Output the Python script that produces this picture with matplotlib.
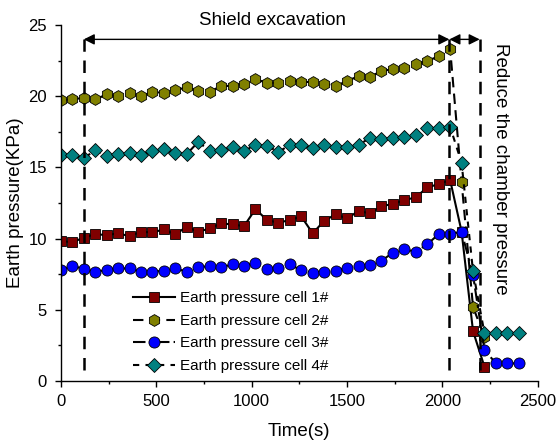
import matplotlib
matplotlib.use("Agg")
import matplotlib.pyplot as plt
from matplotlib.ticker import MultipleLocator

plt.rcParams['font.family'] = ['Liberation Sans', 'DejaVu Sans']

# sampling times (s), one reading per minute
time = [0, 60, 120, 180, 240, 300, 360, 420, 480, 540, 600, 660, 720, 780,
        840, 900, 960, 1020, 1080, 1140, 1200, 1260, 1320, 1380, 1440, 1500,
        1560, 1620, 1680, 1740, 1800, 1860, 1920, 1980, 2040, 2100, 2160,
        2220, 2280, 2340, 2400]

cell1 = [9.83, 9.76, 10.06, 10.32, 10.25, 10.37, 10.18, 10.48, 10.44, 10.65,
         10.30, 10.84, 10.48, 10.72, 11.07, 11.00, 10.88, 12.08, 11.31, 11.12,
         11.31, 11.56, 10.37, 11.26, 11.70, 11.42, 11.94, 11.78, 12.29, 12.43,
         12.71, 12.90, 13.60, 13.83, 14.12, 10.50, 3.50, 1.00]
cell2 = [19.73, 19.78, 19.90, 19.78, 20.13, 20.01, 20.20, 20.01, 20.30, 20.25,
         20.44, 20.62, 20.39, 20.30, 20.74, 20.72, 20.90, 21.20, 20.95, 20.95,
         21.10, 21.04, 20.98, 20.90, 20.72, 21.07, 21.42, 21.37, 21.77, 21.91,
         21.96, 22.24, 22.47, 22.82, 23.34, 14.00, 5.20, 3.10]
cell3 = [7.79, 8.10, 7.87, 7.68, 7.79, 7.91, 7.91, 7.68, 7.68, 7.75,
         7.91, 7.68, 7.98, 8.08, 7.98, 8.20, 8.08, 8.31, 7.84, 7.96,
         8.20, 7.77, 7.60, 7.68, 7.75, 7.96, 8.08, 8.15, 8.45, 9.01,
         9.25, 9.08, 9.60, 10.32, 10.32, 10.48, 7.45, 2.18, 1.24, 1.24, 1.24]
cell4 = [15.87, 15.87, 15.64, 16.22, 15.80, 15.92, 15.99, 15.87, 16.17, 16.27,
         15.99, 15.94, 16.80, 16.17, 16.22, 16.45, 16.17, 16.57, 16.52, 16.10,
         16.57, 16.57, 16.38, 16.57, 16.45, 16.45, 16.57, 17.09, 16.97, 17.09,
         17.16, 17.28, 17.79, 17.79, 17.86, 15.33, 7.70, 3.35, 3.35, 3.35, 3.35]

labels = ['Earth pressure cell 1#', 'Earth pressure cell 2#',
          'Earth pressure cell 3#', 'Earth pressure cell 4#']

# stage boundaries (s) and arrow height (KPa)
t_start, t_end, t_reduce = 120, 2036, 2195
arrow_y = 24.0

fig = plt.figure(figsize=(5.58, 4.41), dpi=100)
ax = fig.add_axes([0.109, 0.136, 0.855, 0.807])

ax.plot(time[:len(cell1)], cell1, color='black', lw=1.5, ls='-',
        marker='s', ms=7, mfc='#800000', mec='black', mew=0.6, label=labels[0])
ax.plot(time[:len(cell2)], cell2, color='black', lw=1.5, ls=(0, (5, 3)),
        marker='h', ms=8.5, mfc='#808000', mec='black', mew=0.6, label=labels[1])
ax.plot(time, cell3, color='black', lw=1.5, ls=(0, (6, 2, 1.5, 2)),
        marker='o', ms=8, mfc='#0000ff', mec='black', mew=0.6, label=labels[2])
ax.plot(time, cell4, color='black', lw=1.5, ls=(0, (3, 3)),
        marker='D', ms=7, mfc='#008080', mec='black', mew=0.6, label=labels[3])

# stage markers
for t in (t_start, t_end, t_reduce):
    ax.plot([t, t], [0.8, arrow_y], color='black', lw=1.8, ls=(0, (5, 3.5)))
arrow = dict(arrowstyle='<|-|>', color='black', lw=1.0,
             mutation_scale=16, shrinkA=0, shrinkB=0)
ax.annotate('', xy=(t_start, arrow_y), xytext=(t_end, arrow_y), arrowprops=arrow)
ax.annotate('', xy=(t_end, arrow_y), xytext=(t_reduce, arrow_y), arrowprops=arrow)
ax.text(1108, 25.35, 'Shield excavation', ha='center', va='center', fontsize=13.5)
ax.text(2305, 14.9, 'Reduce the chamber pressure', ha='center', va='center',
        rotation=270, fontsize=13.5)

ax.set_xlim(0, 2500)
ax.set_ylim(0, 25)
ax.xaxis.set_major_locator(MultipleLocator(500))
ax.xaxis.set_minor_locator(MultipleLocator(250))
ax.yaxis.set_major_locator(MultipleLocator(5))
ax.yaxis.set_minor_locator(MultipleLocator(2.5))
ax.tick_params(which='major', direction='out', length=4, width=1, labelsize=12)
ax.tick_params(which='minor', direction='out', length=2.5, width=1)
ax.tick_params(axis='x', which='major', pad=5.5)
ax.tick_params(axis='y', which='major', pad=6)
for side in ('top', 'right'):
    ax.spines[side].set_visible(False)
for side in ('left', 'bottom'):
    ax.spines[side].set_linewidth(1.0)

ax.set_xlabel('Time(s)', fontsize=13.5, labelpad=10)
ax.set_ylabel('Earth pressure(KPa)', fontsize=13.5, labelpad=3)

ax.legend(loc='upper left', bbox_to_anchor=(0.151, 0.252), frameon=False,
          fontsize=11, handlelength=2.75, handletextpad=0.33, labelspacing=0.56,
          borderpad=0, borderaxespad=0)

fig.savefig('out.png', dpi=100)
